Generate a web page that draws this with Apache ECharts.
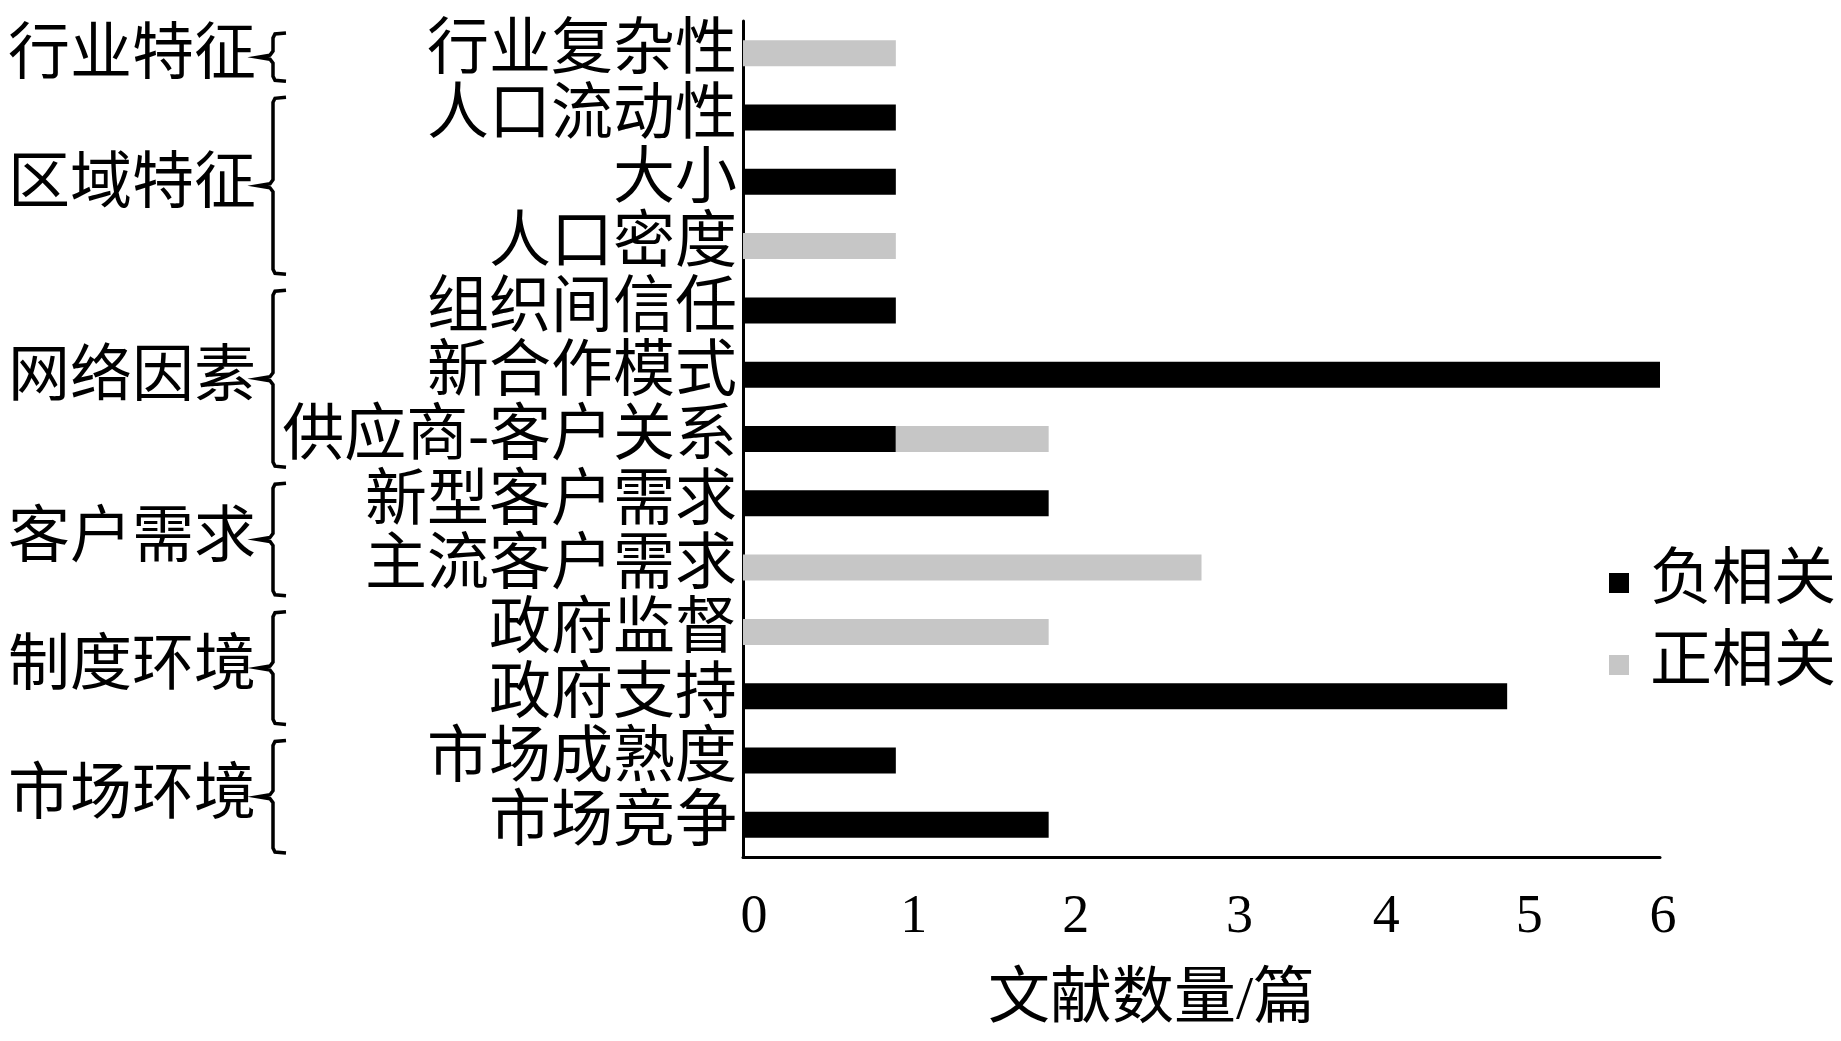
<!DOCTYPE html>
<html>
<head>
<meta charset="utf-8">
<script src="https://cdn.jsdelivr.net/npm/echarts@6/dist/echarts.min.js"></script>
<style>
html,body{margin:0;padding:0;background:#fff;}
#main{width:1841px;height:1041px;}
</style>
</head>
<body>
<div id="main"></div>
<script>
// ---- data ----
const categories = ['行业复杂性','人口流动性','大小','人口密度','组织间信任','新合作模式','供应商-客户关系','新型客户需求','主流客户需求','政府监督','政府支持','市场成熟度','市场竞争'];
const negValues = [0,1,1,0,1,6,1,2,0,0,5,1,2];   // 负相关
const posValues = [1,0,0,1,0,0,1,0,3,2,0,0,0];   // 正相关
const seriesNames = ['负相关','正相关'];
const xTicks = [0,1,2,3,4,5,6];
const groupNames = ['行业特征','区域特征','网络因素','客户需求','制度环境','市场环境'];
const groupFirst = [0,1,4,7,9,11];
const groupLast  = [0,3,6,8,10,12];
const xAxisTitle = '文献数量/篇';

const CJK = '"Liberation Serif","Noto Sans CJK SC",serif';
const chart = echarts.init(document.getElementById('main'), null, {renderer:'canvas'});

// per-tick label nudges (style only)
const tickPad = [22,36,54,76,64,44,6];
const rich = {};
xTicks.forEach((t,i)=>{ rich['t'+i] = {fontFamily:'"Liberation Serif",serif', fontSize:54, color:'#000', padding:[0,0,0,tickPad[i]]}; });

chart.setOption({
  animation:false,
  backgroundColor:'#fff',
  grid:{left:743, right:181, top:21, bottom:184, containLabel:false},
  legend:{
    orient:'vertical', left:1604, top:547, itemWidth:20, itemHeight:20, itemGap:20,
    icon:'rect',
    textStyle:{fontFamily:CJK, fontSize:62, color:'#000', padding:[0,0,0,16]},
    data:seriesNames
  },
  xAxis:{
    type:'value', min:xTicks[0], max:xTicks[xTicks.length-1], interval:1,
    name:xAxisTitle, nameLocation:'middle', nameGap:114,
    nameTextStyle:{fontFamily:CJK, fontSize:62, color:'#000', padding:[0,100,0,0]},
    axisLine:{show:true, lineStyle:{color:'#000', width:3}},
    axisTick:{show:false},
    splitLine:{show:false},
    axisLabel:{margin:34, formatter:function(v){ const i = xTicks.indexOf(v); return '{t'+i+'|'+v+'}'; }, rich:rich}
  },
  yAxis:{
    type:'category', data:categories, inverse:true,
    axisLine:{show:true, lineStyle:{color:'#000', width:3}},
    axisTick:{show:false},
    axisLabel:{interval:0, margin:6, fontFamily:CJK, fontSize:62, color:'#000', padding:[10,0,0,0]}
  },
  series:[
    {name:seriesNames[0], type:'bar', stack:'s', barWidth:26, data:negValues, itemStyle:{color:'#000'}},
    {name:seriesNames[1], type:'bar', stack:'s', barWidth:26, data:posValues, itemStyle:{color:'#c6c6c6'}}
  ]
});

// braces and group labels, positioned from the category axis
const y0 = chart.convertToPixel({yAxisIndex:0}, categories[0]);
const y1 = chart.convertToPixel({yAxisIndex:0}, categories[1]);
const band = y1 - y0;
const graphics = [];
const bx = 273, hook = 13, tipX = 258;
groupNames.forEach((name,g)=>{
  const top = chart.convertToPixel({yAxisIndex:0}, categories[groupFirst[g]]) - band/2 + 12;
  const bot = chart.convertToPixel({yAxisIndex:0}, categories[groupLast[g]]) + band/2 - 4;
  const mid = (top+bot)/2;
  graphics.push({type:'polyline', shape:{points:[
      [bx+hook, top],[bx+2, top+1],[bx, top+5],[bx, mid-6],[bx-3, mid-2],[tipX, mid],
      [bx-3, mid+2],[bx, mid+6],[bx, bot-5],[bx+2, bot-1],[bx+hook, bot]]},
    style:{fill:null, stroke:'#000', lineWidth:3.5}});
  graphics.push({type:'text', x:256, y:mid+1, style:{text:name, fontFamily:CJK, fontSize:62, fill:'#000', align:'right', verticalAlign:'middle'}});
});
chart.setOption({graphic:graphics});
</script>
</body>
</html>
